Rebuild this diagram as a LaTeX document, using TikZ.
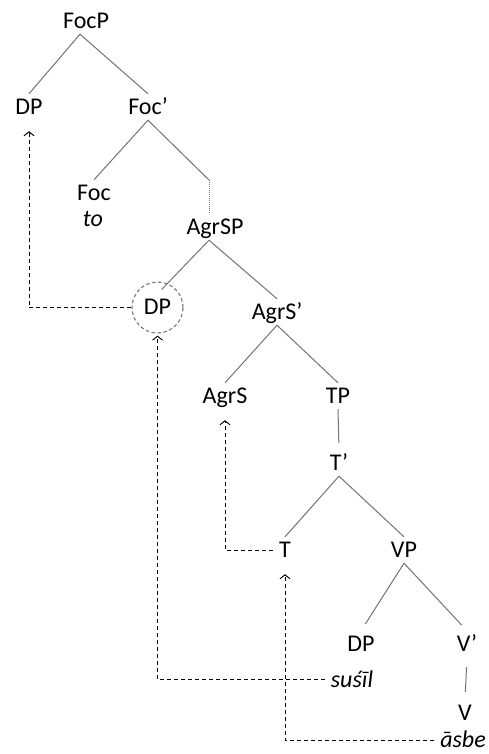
\documentclass[tikz,border=0pt]{standalone}
\usepackage{fontspec}
\setmainfont{Carlito}
\usepackage{tikz}
\usetikzlibrary{
    arrows.meta
}

\begin{document}
\begin{tikzpicture}[x=1pt,y=-1pt,>={Straight Barb[length=4pt,width=10pt]},font=\fontsize{24}{29}\selectfont]
    \tikzstyle{every node}=[anchor=base, inner xsep=6pt, inner ysep=5.5pt, text height=15pt, text depth=0pt]
    \tikzstyle{branch}=[black!55, line width=1pt]
    \tikzstyle{move}=[draw, ->, line width=0.9pt, dash pattern=on 4pt off 3pt, shorten >=11pt]
    \tikzstyle{ring}=[circle, anchor=center, minimum size=51pt, inner sep=0pt, text height=0pt, draw=gray, line width=1.2pt, dash pattern=on 3.5pt off 2.5pt]
    \useasboundingbox (0,0) rectangle (489,754);

    % labels
    \node (FocP) at (86,28.5) {FocP};
    \node (DPa) at (29,114.5) {DP};
    \node (Focbar) at (148,114.5) {Foc'};
    \node (Foc) at (94,200.5) {Foc};
    \node (to) at (93,226) {\itshape to};
    \coordinate (fork) at (209,180);
    \node (AgrSP) at (215,234.5) {AgrSP};
    \node[ring] (ring) at (157.5,307.5) {};
    \node (DPb) at (157.5,314.5) {DP};
    \node (AgrSbar) at (277,319.5) {AgrS'};
    \node (AgrS) at (225,403.5) {AgrS};
    \node (TP) at (338,403.5) {TP};
    \node (Tbar) at (339,470.5) {T'};
    \node (T) at (285,557.5) {T};
    \node (VP) at (404,557.5) {VP};
    \node (DPc) at (361,651.5) {DP};
    \node (Vbar) at (467,651.5) {V'};
    \node (susil) at (352,687) {\itshape suśīl};
    \node (V) at (465,720.5) {V};
    \node (asbe) at (463,747.5) {\itshape āsbe};

    % branches
    \path[branch] ([xshift=-6pt]FocP.south) edge (DPa.north) edge (Focbar.north);
    \path[branch] (Focbar.south) edge (Foc.north) edge (fork);
    \draw[branch, densely dotted] (fork) -- ([xshift=-6pt]AgrSP.north);
    \path[branch] ([xshift=-6pt]AgrSP.south) edge[shorten >=6pt] (DPb.north) edge (AgrSbar.north);
    \path[branch] (AgrSbar.south) edge (AgrS.north) edge (TP.north);
    \path[branch] (TP.south) edge[shorten >=7pt] (Tbar.north);
    \path[branch] (Tbar.south) edge (T.north) edge (VP.north);
    \path[branch] (VP.south) edge[shorten >=8pt] (DPc.north) edge[shorten >=8pt] (Vbar.north);
    \path[branch] (Vbar.south) edge[shorten <=10pt, shorten >=8pt] (V.north);

    % movement
    \draw[move] (ring.west) -| (DPa.south);
    \draw[move, shorten >=2pt] (susil.west) -| (ring.south);
    \draw[move] (T.west) -| (AgrS.south);
    \draw[move] (asbe.west) -| (T.south);
\end{tikzpicture}
\end{document}
